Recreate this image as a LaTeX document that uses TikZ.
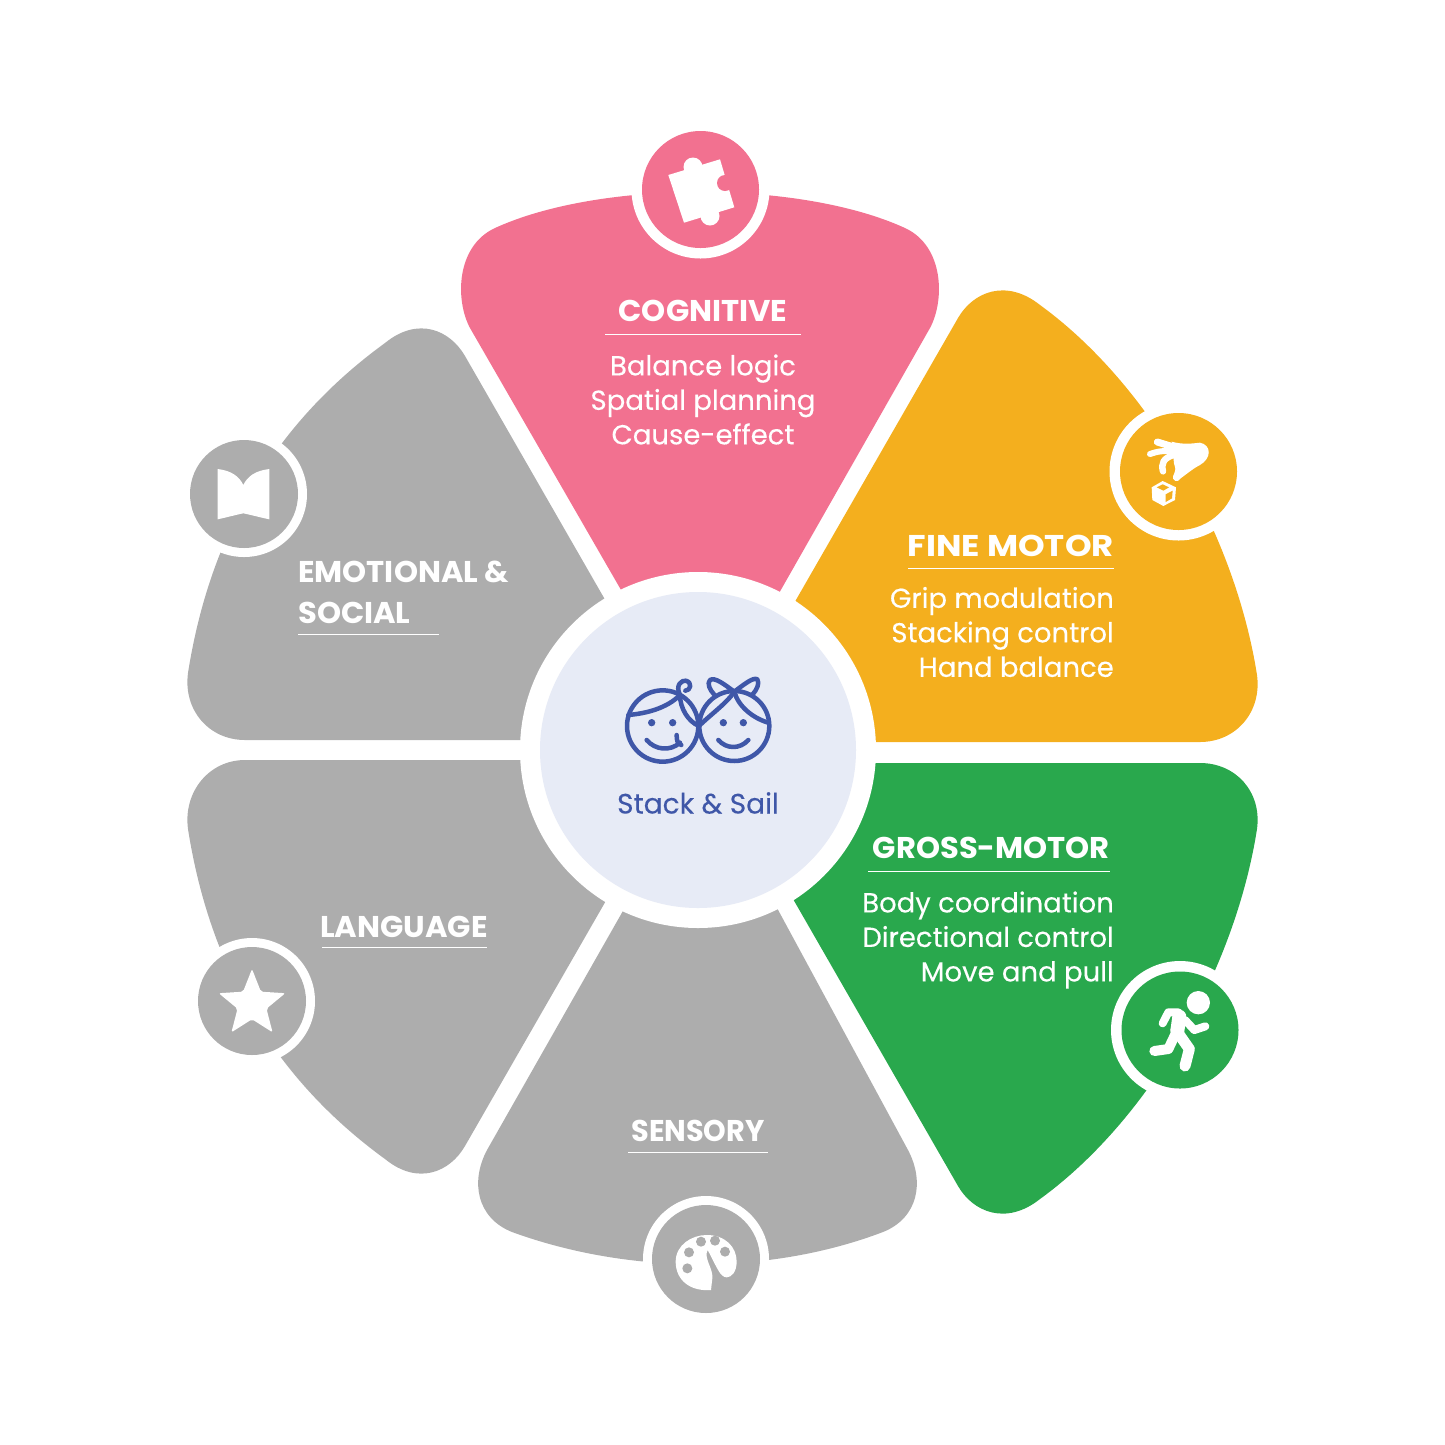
\documentclass[tikz,border=0pt]{standalone}
\usepackage{fontspec}
\setmainfont[FakeBold=0.25]{Poppins}
\newfontfamily\titlefont[FakeStretch=1.02]{Poppins}[BoldFont={* Bold}]
\newfontfamily\titlewide[FakeStretch=1.13]{Poppins}[BoldFont={* Bold}]
\newfontfamily\titlenarrow[FakeStretch=0.96]{Poppins}[BoldFont={* Bold}]
\usetikzlibrary{shapes.geometric}
\definecolor{petalpink}{HTML}{F27190}
\definecolor{petalorange}{HTML}{F4AF1E}
\definecolor{petalgreen}{HTML}{29A84D}
\definecolor{petalgrey}{HTML}{ADADAD}
\definecolor{hubfill}{HTML}{E7EBF6}
\definecolor{hubblue}{HTML}{3F57A8}
\begin{document}
\begin{tikzpicture}[x=1pt,y=-1pt]
\tikzstyle{title} = [white, font=\titlefont\bfseries\fontsize{30}{41}\selectfont, inner sep=0pt]
\tikzstyle{body} = [white, font=\fontsize{27.5}{34.5}\selectfont, inner sep=0pt]
\tikzstyle{rule} = [white, line width=1pt]
\tikzstyle{ring} = [circle, fill=white, inner sep=0pt, minimum size=138pt]
\tikzstyle{ringsmall} = [circle, fill=white, inner sep=0pt, minimum size=126pt]
\tikzstyle{badge} = [circle, inner sep=0pt, minimum size=117pt]
\tikzstyle{badgesmall} = [circle, inner sep=0pt, minimum size=108pt, fill=petalgrey]
\tikzstyle{kidline} = [hubblue, line width=4.5pt, line cap=round, line join=round]
\tikzstyle{limb} = [white, line width=8pt, line cap=round, line join=round]

\useasboundingbox (0,0) rectangle (1445,1444);

% petals
\fill [petalpink] (632,609) -- (470,328) .. controls (455,300) and (456,246) .. (495,228) .. controls (600,180) and (800,180) .. (905,228) .. controls (944,246) and (945,300) .. (930,328) -- (770,609) -- cycle;
\fill [petalorange] (785,619) -- (958,318) .. controls (973,292) and (1006,278) .. (1040,305) .. controls (1150,385) and (1235,535) .. (1257,675) .. controls (1262,712) and (1236,742) .. (1200,742) -- (860,742) -- cycle;
\fill [petalgreen] (785,885) -- (958,1186) .. controls (973,1212) and (1006,1226) .. (1040,1199) .. controls (1150,1119) and (1235,969) .. (1257,829) .. controls (1262,792) and (1236,763) .. (1200,763) -- (860,763) -- cycle;
\fill [petalgrey] (632,895) -- (487,1150) .. controls (470,1182) and (477,1218) .. (512,1232) .. controls (630,1275) and (770,1275) .. (883,1232) .. controls (918,1218) and (925,1182) .. (908,1150) -- (770,895) -- cycle;
\fill [petalgrey] (615,885) -- (465,1146) .. controls (450,1172) and (418,1186) .. (385,1159) .. controls (275,1079) and (210,969) .. (188,829) .. controls (183,792) and (209,760) .. (245,760) -- (535,760) -- cycle;
\fill [petalgrey] (615,617) -- (465,356) .. controls (450,330) and (418,316) .. (385,343) .. controls (275,423) and (210,533) .. (188,673) .. controls (183,710) and (209,740) .. (245,740) -- (535,740) -- cycle;

% hub
\node (hubring) [circle, fill=white, inner sep=0pt, minimum size=356pt] at (698,750) {};
\node (hub) [circle, fill=hubfill, inner sep=0pt, minimum size=316pt] at (698,750) {};

% badges
\node (cogring) [ring] at (700.5,189.5) {};
\node (cogbadge) [badge, fill=petalpink] at (700.5,189.5) {};
\node (finering) [ring] at (1178.5,471.5) {};
\node (finebadge) [badge, fill=petalorange] at (1178.5,471.5) {};
\node (grossring) [ring] at (1180,1030) {};
\node (grossbadge) [badge, fill=petalgreen] at (1180,1030) {};
\node (sensring) [ringsmall] at (706,1259) {};
\node (sensbadge) [badgesmall] at (706,1259) {};
\node (langring) [ringsmall] at (252,1001) {};
\node (langbadge) [badgesmall] at (252,1001) {};
\node (emoring) [ringsmall] at (244,494) {};
\node (emobadge) [badgesmall] at (244,494) {};

% puzzle
\fill [white] (668.3,175) -- (720,159.3) -- (734.3,207.3) -- (684,222.7) -- cycle;
\fill [white] (693,167) circle (9.5);
\fill [white] (710,216) circle (9.5);
\fill [petalpink] (725,183) circle (8);

% hand and cube
\begin{scope}[shift={(1100,400)},scale=0.3333]
\fill [white] (215,125) .. controls (250,135) and (280,130) .. (300,128) .. controls (335,135) and (335,175) .. (300,195) .. controls (280,205) and (260,222) .. (235,240) -- (222,190) -- cycle;
\draw [limb, line width=7pt] (172,126) -- (250,150);
\draw [limb, line width=6pt] (150,162) .. controls (170,155) and (190,150) .. (230,155);
\draw [limb, line width=6.5pt] (189,214) .. controls (183,190) and (190,175) .. (220,165);
\draw [limb, line width=7.5pt] (230,232) .. controls (240,210) and (240,195) .. (240,175);
\fill [white] (188,243) -- (228,262) -- (225,300) -- (190,318) -- (157,300) -- (155,262) -- cycle;
\fill [petalorange] (170,262) -- (188,253) -- (207,262) -- (190,272) -- cycle;
\fill [petalorange] (197,283) -- (218,272) -- (216,295) -- (197,306) -- cycle;
\end{scope}

% runner
\begin{scope}[shift={(1100,955)},scale=0.3333]
\fill [white] (295,143) circle (35);
\draw [limb, line width=14pt] (238,185) -- (232,228);
\draw [limb] (235,172) -- (205,172) -- (188,205);
\draw [limb] (255,195) -- (283,225) -- (316,214);
\draw [limb, line width=11pt] (228,225) -- (268,282) -- (255,333);
\draw [limb, line width=10pt] (225,240) -- (205,282) -- (163,288);
\end{scope}

% palette
\begin{scope}[shift={(635,1190)},scale=0.3333]
\fill [white] (228,300) .. controls (165,305) and (122,270) .. (122,215) .. controls (122,165) and (170,135) .. (215,135) .. controls (270,135) and (305,170) .. (305,215) .. controls (305,245) and (290,262) .. (275,262) .. controls (255,262) and (245,230) .. (218,180) .. controls (205,205) and (235,235) .. (232,265) -- cycle;
\foreach \px/\py in {162/187,198/155,240/152,270/185,157/235}
  \fill [petalgrey] (\px,\py) circle (15);
\end{scope}

% star
\node (staricon) [star, star points=5, star point ratio=2.3, minimum size=70pt, inner sep=0pt, fill=white, rounded corners=2pt] at (252,1004) {};

% book
\begin{scope}[shift={(180,430)},scale=0.3333]
\fill [white] (113,117) .. controls (155,122) and (178,140) .. (190,165) .. controls (202,140) and (225,122) .. (268,117) -- (268,268) .. controls (240,262) and (210,254) .. (190,250) .. controls (170,254) and (140,262) .. (113,268) -- cycle;
\end{scope}

% kids
\begin{scope}[shift={(600,650)},scale=0.3333]
\draw [kidline] (188,228) circle (107);
\draw [kidline] (403,228) circle (105);
\draw [kidline] (85,195) .. controls (140,190) and (200,175) .. (240,135);
\draw [kidline] (240,135) .. controls (225,105) and (245,90) .. (258,92) .. controls (278,98) and (272,122) .. (256,122);
\draw [kidline] (240,135) .. controls (240,175) and (265,215) .. (297,228);
\draw [kidline] (403,125) .. controls (380,160) and (330,195) .. (297,228);
\draw [kidline] (403,125) .. controls (415,170) and (460,205) .. (505,218);
\draw [kidline] (403,125) .. controls (375,105) and (345,80) .. (330,90) .. controls (320,100) and (330,120) .. (342,133);
\draw [kidline] (403,125) .. controls (430,105) and (460,80) .. (472,88) .. controls (480,100) and (470,120) .. (458,133);
\fill [hubblue] (155,218) circle (11);
\fill [hubblue] (218,218) circle (11);
\fill [hubblue] (370,218) circle (11);
\fill [hubblue] (430,218) circle (11);
\draw [kidline] (140,270) .. controls (165,300) and (210,305) .. (240,278);
\draw [kidline] (230,255) .. controls (230,270) and (232,282) .. (244,285);
\draw [kidline] (355,270) .. controls (380,298) and (420,298) .. (445,270);
\end{scope}
\node (hubtext) [hubblue, font=\fontsize{28}{34}\selectfont, inner sep=0pt] at (698,803) {Stack \& Sail};

% cognitive
\node (cogtitle) [title] at (703,311) {COGNITIVE};
\draw [rule] (605,334) -- (801,334);
\node (cogbody) [body, align=center] at (703,399.5) {Balance logic\\Spatial planning\\Cause-effect};

% fine motor
\node (finetitle) [title, font=\titlewide\bfseries\fontsize{30}{41}\selectfont, anchor=east] at (1114,546) {FINE MOTOR};
\draw [rule] (908,568) -- (1114,568);
\node (finebody) [body, align=right, anchor=east] at (1114,632) {Grip modulation\\Stacking control\\Hand balance};

% gross motor
\node (grosstitle) [title, anchor=east] at (1110,848) {GROSS-MOTOR};
\draw [rule] (868,871) -- (1110,871);
\node (grossbody) [body, align=right, anchor=east] at (1114,940) {Body coordination\\Directional control\\Move and pull};

% greys
\node (emotitle) [title, align=left, anchor=west] at (298,592) {EMOTIONAL \&\\SOCIAL};
\draw [rule] (298,634) -- (439,634);
\node (langtitle) [title] at (404,927) {LANGUAGE};
\draw [rule] (322,947) -- (487,947);
\node (senstitle) [title, font=\titlenarrow\bfseries\fontsize{30}{41}\selectfont] at (698,1131) {SENSORY};
\draw [rule] (628,1152) -- (768,1152);

\end{tikzpicture}
\end{document}
